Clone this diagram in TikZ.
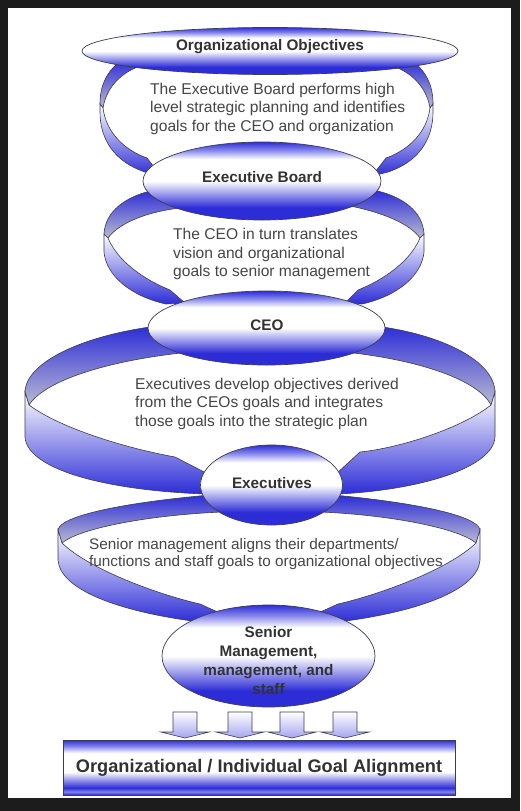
\documentclass[tikz,border=0pt]{standalone}
\usepackage{fontspec}
\setmainfont{Liberation Sans}
\usetikzlibrary{shapes.geometric}
\definecolor{bandblue}{RGB}{45,45,215}
\definecolor{midblue}{RGB}{130,130,235}
\definecolor{bandgrey}{RGB}{185,185,210}
\definecolor{arrowblue}{RGB}{165,165,240}
\definecolor{txt}{RGB}{70,70,70}
\definecolor{lbltxt}{RGB}{50,50,50}
\definecolor{framec}{RGB}{28,28,28}
\definecolor{edgec}{RGB}{60,60,80}
\pgfdeclareverticalshading{ellshade}{100bp}{color(0bp)=(bandblue); color(25bp)=(bandblue); color(33bp)=(bandblue); color(50bp)=(white); color(64bp)=(white); color(70bp)=(midblue); color(75bp)=(bandblue); color(100bp)=(bandblue)}
\pgfdeclareverticalshading{rectshade}{100bp}{color(0bp)=(bandblue); color(25bp)=(bandblue); color(28bp)=(midblue); color(31.5bp)=(bandblue); color(46bp)=(white); color(63bp)=(white); color(69.5bp)=(midblue); color(75bp)=(bandblue); color(100bp)=(bandblue)}
\begin{document}
\begin{tikzpicture}[x=1pt,y=-1pt,
  back/.style={draw=edgec, line width=0.6pt, top color=bandblue, bottom color=bandgrey},
  front/.style={draw=edgec, line width=0.6pt, top color=white, bottom color=bandblue},
  oval/.style={ellipse, draw=edgec, line width=0.7pt, shade, shading=ellshade, inner sep=0pt},
  lbl/.style={font=\fontsize{15.3}{19}\selectfont\bfseries, text=lbltxt, align=center, inner sep=0pt},
  body/.style={font=\fontsize{15.6}{18.5}\selectfont, text=txt, align=left, anchor=west, inner sep=0pt},
  smallarrow/.style={draw=edgec, line width=0.6pt, top color=white, bottom color=arrowblue}]
% frame
\fill[framec] (0,0) rectangle (520,811);
\fill[white] (8,8) rectangle (511,798);
\useasboundingbox (0,0) rectangle (520,811);

% ---- loop 1
\path[back] (122,60) .. controls (105,72) and (100,88) .. (100,104) -- (103,108) .. controls (106,90) and (118,74) .. (140,66) -- cycle;
\path[back] (411,60) .. controls (428,72) and (433,88) .. (433,104) -- (430,108) .. controls (427,90) and (415,74) .. (393,66) -- cycle;
\path[front] (100,104) -- (103,108) .. controls (106,132) and (124,150) .. (147,158) -- (161,176) -- (145,172) .. controls (115,162) and (100,140) .. (100,112) -- cycle;
\path[front] (433,104) -- (430,108) .. controls (427,132) and (409,150) .. (386,158) -- (372,176) -- (388,172) .. controls (418,162) and (433,140) .. (433,112) -- cycle;

% ---- loop 2
\path[back] (155,190) .. controls (125,196) and (105,212) .. (104,234) -- (108,238) .. controls (118,224) and (145,212) .. (180,208) -- cycle;
\path[back] (373,190) .. controls (403,196) and (423,212) .. (424,234) -- (420,238) .. controls (410,224) and (383,212) .. (345,205) -- cycle;
\path[front] (104,234) -- (108,238) .. controls (118,262) and (145,280) .. (170,290) -- (185,303) -- (166,304) .. controls (130,296) and (106,275) .. (104,252) -- cycle;
\path[front] (424,234) -- (420,238) .. controls (410,262) and (383,280) .. (358,290) -- (345,303) -- (362,304) .. controls (398,296) and (422,275) .. (424,252) -- cycle;

% ---- loop 3
\path[back] (158,326) .. controls (90,334) and (26,360) .. (25,392) -- (29,405) .. controls (45,380) and (110,360) .. (190,352) -- cycle;
\path[back] (375,326) .. controls (440,334) and (494,360) .. (495,392) -- (491,405) .. controls (478,380) and (420,360) .. (345,352) -- cycle;
\path[front] (25,392) -- (29,405) .. controls (60,428) and (125,448) .. (175,457) -- (208,474) -- (205,494) .. controls (100,490) and (27,468) .. (25,437) -- cycle;
\path[front] (495,392) -- (491,405) .. controls (462,428) and (400,448) .. (360,452) -- (336,474) -- (338,494) .. controls (420,490) and (493,468) .. (495,437) -- cycle;

% ---- loop 4
\path[back] (210,495) .. controls (130,502) and (60,515) .. (58,530) -- (62,543) .. controls (80,528) and (150,515) .. (222,512) -- cycle;
\path[back] (333,495) .. controls (410,502) and (478,515) .. (480,530) -- (476,543) .. controls (458,528) and (390,515) .. (321,512) -- cycle;
\path[front] (58,530) -- (62,543) .. controls (90,570) and (160,595) .. (200,604) -- (222,614) -- (200,622) .. controls (120,612) and (60,590) .. (58,560) -- cycle;
\path[front] (480,530) -- (476,543) .. controls (448,570) and (378,595) .. (338,604) -- (316,614) -- (338,622) .. controls (418,612) and (478,590) .. (480,560) -- cycle;

% ---- ellipses
\node[oval, minimum width=376, minimum height=47] (e1) at (270,51) {};
\node[oval, minimum width=238, minimum height=78] (e2) at (262,181) {};
\node[oval, minimum width=237, minimum height=74] (e3) at (266.5,328) {};
\node[oval, minimum width=142, minimum height=80] (e4) at (271.5,485) {};
\node[oval, minimum width=213, minimum height=102] (e5) at (268.5,656) {};

\node[lbl] (l1) at (270,47) {Organizational Objectives};
\node[lbl] (l2) at (262,177) {Executive Board};
\node[lbl] (l3) at (267,325) {CEO};
\node[lbl] (l4) at (272,483) {Executives};
\node[lbl] (l5) at (268.5,661) {Senior\\Management,\\management, and\\staff};

% ---- texts in loops
\node[body] (t1) at (150,108.5) {The Executive Board performs high\\level strategic planning and identifies\\goals for the CEO and organization};
\node[body] (t2) at (173,254) {The CEO in turn translates\\vision and organizational\\goals to senior management};
\node[body] (t3) at (135,403.5) {Executives develop objectives derived\\from the CEOs goals and integrates\\those goals into the strategic plan};
\node[body, font=\fontsize{15.3}{17}\selectfont] (t4) at (89,554.5) {Senior management aligns their departments/\\functions and staff goals to organizational objectives};

% ---- small arrows
\foreach \ax in {185,240,292,345}{
  \path[smallarrow] (\ax-12,712) -- (\ax+12,712) -- (\ax+12,732) -- (\ax+24,732) -- (\ax,738) -- (\ax-24,732) -- (\ax-12,732) -- cycle;
}

% ---- bottom bar
\node[draw=edgec, line width=0.7pt, shade, shading=rectshade, minimum width=392, minimum height=55, inner sep=0pt,
      font=\fontsize{18.2}{20}\selectfont\bfseries, text=lbltxt] (goal) at (259,767.5) {Organizational / Individual Goal Alignment};
\end{tikzpicture}
\end{document}
